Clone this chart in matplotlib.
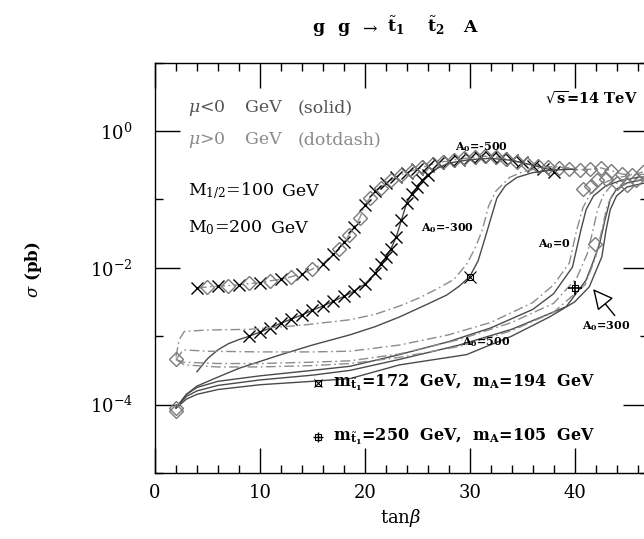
import numpy as np
import matplotlib
matplotlib.use('Agg')
import matplotlib.pyplot as plt
from matplotlib.ticker import FixedLocator, NullFormatter, LogFormatterSciNotation

plt.rcParams['font.family'] = ['DejaVu Serif']
plt.rcParams['mathtext.fontset'] = 'dejavuserif'

# values: tan(beta) and log10(sigma / pb)
# A0=-500, mu>0 (dotdash), crosses and diamonds
up_x_tb = [4, 6, 8, 10, 12, 14, 16, 17, 18, 19, 20, 21, 22, 23, 24, 25, 26, 27, 28, 29, 30, 31, 32, 33, 34, 35, 36, 37, 38]
up_x_lg = [-2.30, -2.27, -2.25, -2.22, -2.17, -2.09, -1.94, -1.80, -1.62, -1.40, -1.08, -0.88, -0.76, -0.67, -0.61,
           -0.56, -0.51, -0.47, -0.44, -0.42, -0.40, -0.38, -0.38, -0.39, -0.42, -0.46, -0.51, -0.56, -0.60]
up_d_tb = [5, 7, 9, 11, 13, 15, 17.5, 18.5, 19.5, 20.5, 21.5, 22.5, 23.5, 24.5, 25.5, 26.5, 27.5, 28.5, 29.5, 30.5,
           31.5, 32.5, 33.5, 34.5, 35.5, 36.5, 37.5, 38.5, 39.5, 40.5, 41.5, 42.5, 43.5, 44.5, 45.5, 46.5]
up_d_lg = [-2.28, -2.26, -2.23, -2.19, -2.13, -2.02, -1.72, -1.52, -1.28, -0.98, -0.83, -0.72, -0.64, -0.58, -0.53,
           -0.48, -0.45, -0.42, -0.40, -0.38, -0.37, -0.38, -0.41, -0.45, -0.49, -0.51, -0.53, -0.54, -0.55, -0.57,
           -0.56, -0.54, -0.58, -0.63, -0.64, -0.60]

# A0=-500, mu<0 (solid), crosses from tan(beta)=9
lo_tb = [4, 5, 6, 7, 8, 9, 10, 11, 12, 13, 14, 15, 16, 17, 18, 19, 20, 21, 21.5, 22, 22.5, 23, 23.5, 24, 24.5,
         25, 25.5, 26, 27, 28, 30, 32, 34, 36, 38]
lo_lg = [-3.52, -3.33, -3.20, -3.11, -3.05, -3.00, -2.94, -2.88, -2.81, -2.75, -2.69, -2.62, -2.56, -2.49, -2.42,
         -2.34, -2.24, -2.08, -1.95, -1.85, -1.72, -1.55, -1.30, -1.05, -0.92, -0.82, -0.72, -0.64, -0.54, -0.47,
         -0.42, -0.40, -0.43, -0.50, -0.58]

# A0=-300
m300_s_tb = [2, 3, 4, 5.5, 8, 12, 15, 18.6, 21, 23.3, 26, 27.8, 29, 30, 30.8, 31.4, 31.9, 32.6, 33.4, 34.5, 36, 38, 40]
m300_s_lg = [-4.05, -3.85, -3.73, -3.63, -3.47, -3.27, -3.13, -2.98, -2.86, -2.72, -2.53, -2.40, -2.27, -2.13, -1.90,
             -1.60, -1.34, -0.98, -0.80, -0.68, -0.61, -0.57, -0.56]
m300_d_tb = [2, 2.3, 2.8, 5, 9, 14, 18.6, 21, 23.3, 25.2, 27, 28.5, 29.7, 30.5, 31.2, 31.8, 32.5, 33.8, 35, 36.7, 38, 39.5]
m300_d_lg = [-3.30, -3.05, -2.93, -2.91, -2.90, -2.84, -2.76, -2.68, -2.56, -2.44, -2.30, -2.17, -1.95, -1.72, -1.45,
             -1.10, -0.88, -0.68, -0.60, -0.54, -0.52, -0.54]

# A0=0
z_s_tb = [2, 3, 4, 6, 10, 15, 18.6, 23.3, 28, 32, 36, 38, 39.8, 40.6, 41.1, 41.8, 43, 44.5, 46, 48]
z_s_lg = [-4.05, -3.85, -3.75, -3.66, -3.58, -3.50, -3.44, -3.27, -3.08, -2.88, -2.61, -2.38, -1.99, -1.45, -1.15,
          -0.95, -0.80, -0.72, -0.68, -0.66]
z_d_tb = [2, 2.7, 5, 10, 15, 18.6, 23.3, 28, 32, 36, 38, 39.5, 40.2, 40.8, 41.5, 42.5, 44, 46, 48]
z_d_lg = [-3.34, -3.20, -3.22, -3.23, -3.23, -3.22, -3.13, -2.98, -2.80, -2.51, -2.25, -1.93, -1.45, -1.12, -0.92,
          -0.78, -0.68, -0.64, -0.62]

# A0=300
p300_s_tb = [2, 3, 4, 6, 10, 15, 18.6, 23.3, 29, 34, 39.2, 41.1, 41.8, 42.4, 42.9, 43.4, 44, 45, 47]
p300_s_lg = [-4.05, -3.88, -3.80, -3.72, -3.64, -3.57, -3.50, -3.34, -3.13, -2.90, -2.57, -2.18, -1.90, -1.64, -1.30,
             -1.00, -0.85, -0.76, -0.70]
p300_d_tb = [2, 2.7, 6, 10, 15, 18.6, 23.3, 29, 34, 38, 40.2, 41.2, 41.6, 42.2, 42.8, 43.5, 45, 47]
p300_d_lg = [-3.34, -3.38, -3.40, -3.40, -3.38, -3.36, -3.26, -3.05, -2.80, -2.52, -2.15, -1.80, -1.55, -1.15, -0.92,
             -0.80, -0.70, -0.66]

# A0=500
p500_s_tb = [2, 3, 4, 6, 10, 15, 18.6, 23.3, 29.7, 34, 37.6, 40, 41.4, 42.6, 43, 43.4, 44, 45, 47]
p500_s_lg = [-4.05, -3.92, -3.85, -3.78, -3.71, -3.66, -3.62, -3.42, -3.27, -3.00, -2.72, -2.50, -2.28, -1.84, -1.45,
             -1.15, -0.95, -0.82, -0.75]
p500_d_tb = [2, 2.8, 6, 10, 15, 18.6, 23.3, 29, 34, 38, 41, 42, 42.6, 43.1, 43.7, 44.5, 46, 48]
p500_d_lg = [-3.34, -3.42, -3.45, -3.45, -3.43, -3.40, -3.31, -3.15, -2.92, -2.65, -2.25, -1.85, -1.45, -1.10, -0.90,
             -0.80, -0.72, -0.68]

# extra gray diamonds on the right plateau and at tan(beta)=2
dia_tb = [2, 2, 2, 41.9, 40.8, 41.6, 42.1, 43.0, 44.0, 45.0, 45.9]
dia_lg = [-3.34, -4.05, -4.10, -1.66, -0.85, -0.80, -0.72, -0.70, -0.76, -0.79, -0.72]

# special points
pt1_tb, pt1_lg = 30.0, -2.13   # m_st1=172, m_A=194
pt2_tb, pt2_lg = 40.0, -2.29   # m_st1=250, m_A=105

solid_c = '#4a4a4a'
dash_c = '#8c8c8c'
dia_c = '#7a7a7a'
dotdash = (0, (7, 2.5, 1.2, 2.5))


def p(lg):
    return 10.0 ** np.array(lg)


fig = plt.figure(figsize=(6.44, 5.39), dpi=100)
ax = fig.add_axes([155 / 644, 1 - 473 / 539, 493 / 644, (473 - 62.5) / 539])

# A0=-500 dotdash through both marker sets
up_tb = np.array(up_x_tb + up_d_tb)
up_lg = np.array(up_x_lg + up_d_lg)
order = np.argsort(up_tb)
ax.plot(up_tb[order], p(up_lg[order]), color=dash_c, ls=dotdash, lw=1)
ax.plot(up_x_tb, p(up_x_lg), ls='none', marker='x', ms=8, mew=1, color='black')
ax.plot(up_d_tb, p(up_d_lg), ls='none', marker='D', ms=7, mfc='none', mec=dia_c, mew=1)

ax.plot(lo_tb, p(lo_lg), color=solid_c, lw=1)
lo_mark = [i for i, t in enumerate(lo_tb) if 9 <= t <= 26]
ax.plot(np.array(lo_tb)[lo_mark], p(np.array(lo_lg)[lo_mark]), ls='none', marker='x', ms=8, mew=1, color='black')

for tb, lg in [(m300_s_tb, m300_s_lg), (z_s_tb, z_s_lg), (p300_s_tb, p300_s_lg), (p500_s_tb, p500_s_lg)]:
    ax.plot(tb, p(lg), color=solid_c, lw=1)
for tb, lg in [(m300_d_tb, m300_d_lg), (z_d_tb, z_d_lg), (p300_d_tb, p300_d_lg), (p500_d_tb, p500_d_lg)]:
    ax.plot(tb, p(lg), color=dash_c, ls=dotdash, lw=1)

ax.plot(dia_tb, p(dia_lg), ls='none', marker='D', ms=7, mfc='none', mec=dia_c, mew=1)

# special points and their key
ax.plot(pt1_tb, p(pt1_lg), ls='none', marker='s', ms=5, mfc='none', mec='black', mew=0.8)
ax.plot(pt1_tb, p(pt1_lg), ls='none', marker='x', ms=8, color='black', mew=0.8)
ax.plot(pt2_tb, p(pt2_lg), ls='none', marker='+', ms=10, color='black', mew=1.2)
ax.plot(pt2_tb, p(pt2_lg), ls='none', marker='s', ms=5, mfc='none', mec='black', mew=0.8)
ax.plot(15.5, p(-3.68), ls='none', marker='s', ms=4, mfc='none', mec='black', mew=0.8)
ax.plot(15.5, p(-3.68), ls='none', marker='x', ms=6, color='black', mew=0.8)
ax.plot(15.5, p(-4.47), ls='none', marker='+', ms=7, color='black', mew=1)
ax.plot(15.5, p(-4.47), ls='none', marker='s', ms=4, mfc='none', mec='black', mew=0.8)

key_fmt = r'm$_{\tilde{\mathbf{t}}_{\mathbf{1}}}$=%d  GeV,  m$_{\mathbf{A}}$=%d  GeV'
ax.text(17.0, p(-3.68), key_fmt % (172, 194), fontsize=11.5, fontweight='bold', va='center', ha='left')
ax.text(17.0, p(-4.47), key_fmt % (250, 105), fontsize=11.5, fontweight='bold', va='center', ha='left')

# parameter texts, placed word by word to match the wide typesetting
words = [
    (3.14, 0.34, r'$\mu$<0', '#555555'), (8.6, 0.34, 'GeV', '#555555'), (13.6, 0.34, '(solid)', '#555555'),
    (3.14, -0.13, r'$\mu$>0', '#8a8a8a'), (8.6, -0.13, 'GeV', '#8a8a8a'), (13.6, -0.13, '(dotdash)', '#8a8a8a'),
    (3.14, -0.88, r'M$_{1/2}$=100', 'black'), (12.1, -0.88, 'GeV', 'black'),
    (3.14, -1.42, r'M$_0$=200', 'black'), (11.1, -1.42, 'GeV', 'black'),
]
for wx, wy, s, c in words:
    ax.text(wx, p(wy), s, fontsize=12.5, color=c, va='center', ha='left')
ax.text(37.2, p(0.48), r'$\mathbf{\sqrt{s}}$=14 TeV', fontsize=10.5, fontweight='bold', va='center')

ax.text(28.6, p(-0.23), r'A$_{\mathbf{0}}$=-500', fontsize=8, fontweight='bold', va='center')
ax.text(25.4, p(-1.42), r'A$_{\mathbf{0}}$=-300', fontsize=8, fontweight='bold', va='center')
ax.text(36.5, p(-1.66), r'A$_{\mathbf{0}}$=0', fontsize=8, fontweight='bold', va='center')
ax.text(40.7, p(-2.85), r'A$_{\mathbf{0}}$=300', fontsize=8, fontweight='bold', va='center')
ax.text(29.3, p(-3.09), r'A$_{\mathbf{0}}$=500', fontsize=8, fontweight='bold', va='center')
ax.annotate('', xy=(41.6, p(-2.28)), xytext=(44.0, p(-2.73)),
            arrowprops=dict(arrowstyle='-|>,head_length=0.9,head_width=0.45', fc='white', ec='black',
                            lw=1, mutation_scale=14))

ax.set_xlim(0, 47)
ax.set_yscale('log')
ax.set_ylim(1e-5, 1e1)
ax.xaxis.set_major_locator(FixedLocator([0, 10, 20, 30, 40]))
ax.xaxis.set_minor_locator(FixedLocator(np.arange(0, 48, 2)))
ax.yaxis.set_major_locator(FixedLocator([1e-4, 1e-2, 1e0]))
ax.yaxis.set_minor_locator(FixedLocator([1e-5, 1e-3, 1e-1, 1e1]))
ax.yaxis.set_major_formatter(LogFormatterSciNotation())
ax.yaxis.set_minor_formatter(NullFormatter())
ax.tick_params(which='both', direction='in', top=True, right=True, width=1)
ax.tick_params(which='major', length=18)
ax.tick_params(which='minor', length=6)
ax.tick_params(axis='x', labelsize=13, pad=8)
ax.tick_params(axis='y', labelsize=13, pad=16)
for s in ax.spines.values():
    s.set_linewidth(1)

fig.text(401 / 644, 1 - 518 / 539, r'tan$\beta$', fontsize=13, ha='center', va='center')
fig.text(33 / 644, 1 - 270 / 539, r'$\sigma$ (pb)', fontsize=12, fontweight='bold', rotation=90,
         ha='center', va='center')

# title, token by token
title_tokens = [(312, r'$\mathbf{g}$'), (337, r'$\mathbf{g}$'), (359, r'$\rightarrow$'),
                (387, r'$\tilde{\mathbf{t}}_{\mathbf{1}}$'), (427, r'$\tilde{\mathbf{t}}_{\mathbf{2}}$'),
                (463, r'$\mathbf{A}$')]
for tx, s in title_tokens:
    fig.text(tx / 644, 1 - 32 / 539, s, fontsize=12.5, ha='left', va='baseline')

fig.savefig('out.png', dpi=100)
